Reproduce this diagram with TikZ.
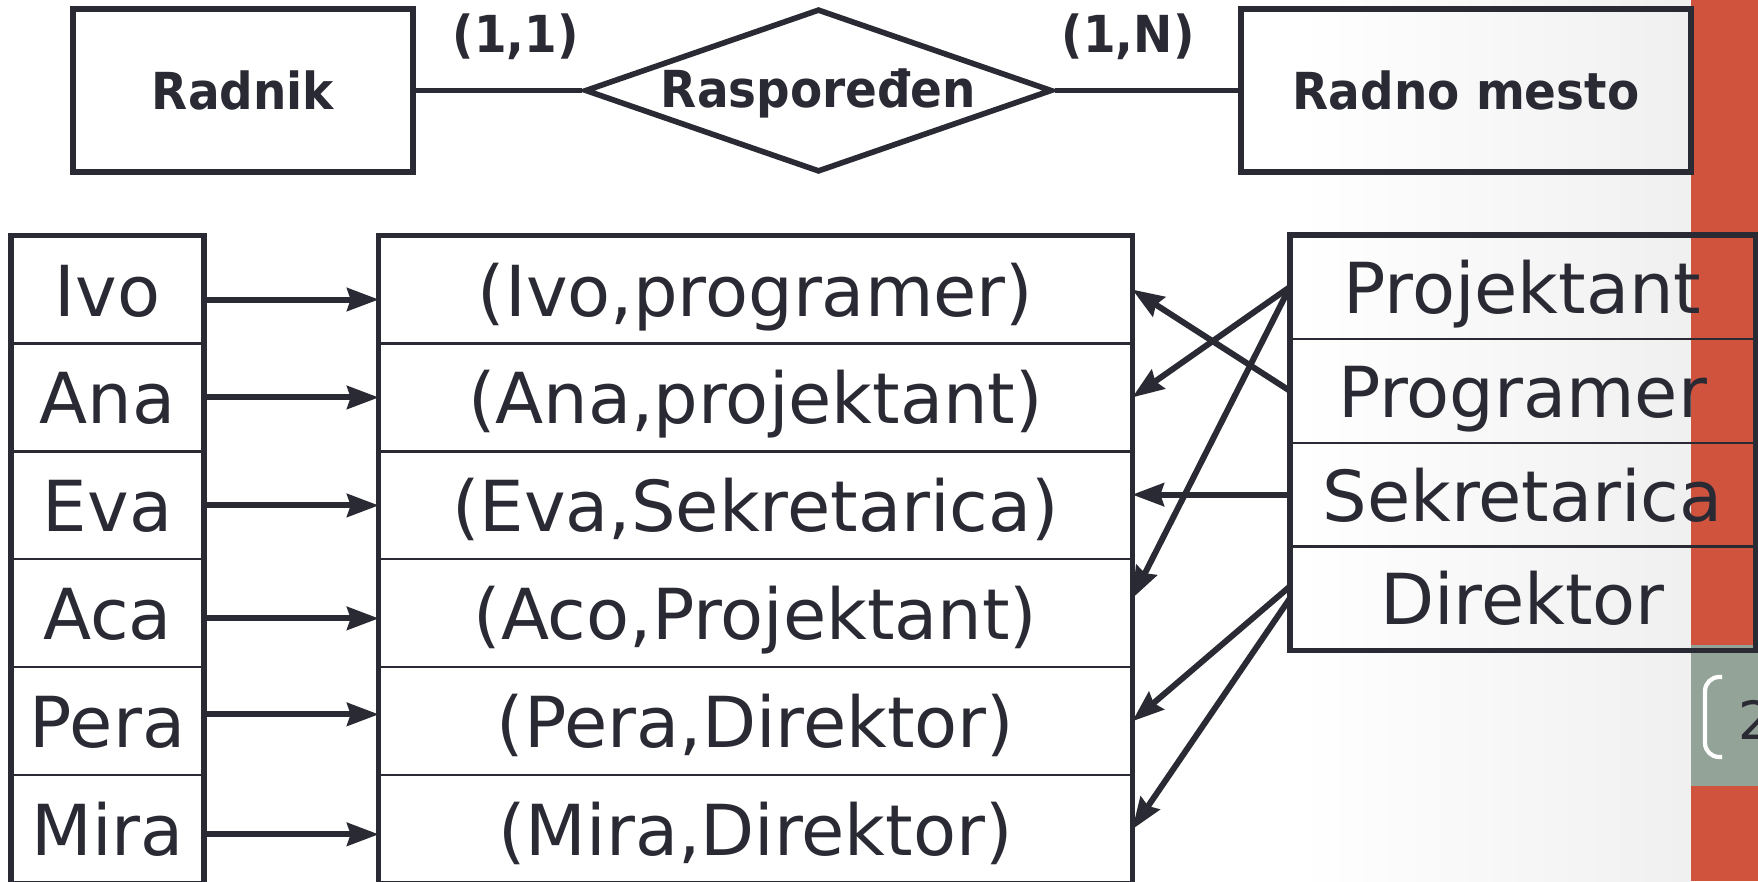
\documentclass[tikz,border=0pt]{standalone}
\usepackage{fontspec}
\setmainfont{DejaVu Sans}
\newfontfamily\erfont{DejaVu Sans}[FakeStretch=0.92]
\usetikzlibrary{shapes.geometric, arrows.meta, positioning}

\definecolor{ink}{RGB}{42,42,52}
\definecolor{slideorange}{RGB}{208,83,62}
\definecolor{slidegray}{RGB}{148,163,152}

\begin{document}
\begin{tikzpicture}[x=0.01cm, y=-0.01cm, line width=1.4pt, draw=ink, text=ink,
    % 样式定义
    entity/.style={draw, line width=1.6pt, minimum height=1.63cm,
        font=\erfont\bfseries\fontsize{14.5}{17}\selectfont},
    relation/.style={diamond, draw, line width=1.6pt, inner sep=0pt,
        minimum width=4.67cm, minimum height=1.63cm},
    card/.style={font=\erfont\bfseries\fontsize{14.5}{17}\selectfont},
    cell/.style={draw, line width=0.6pt, outer sep=0pt, inner sep=0pt,
        minimum height=1.079cm, text height=0.53cm, text depth=0cm,
        font=\fontsize{20}{24}\selectfont},
    lcell/.style={cell, minimum width=1.93cm},
    mcell/.style={cell, minimum width=7.53cm},
    rcell/.style={cell, minimum width=4.65cm, minimum height=1.0375cm},
    frame/.style={draw, line width=1.5pt},
    link/.style={-{Stealth[length=9pt, width=6.5pt, inset=1pt]}, line width=1.7pt}
]
    \useasboundingbox (0,0) rectangle (1758,881);

    % ▼▼▼【背景】▼▼▼
    \fill[white] (0,0) rectangle (1691,881);
    \shade[left color=white, right color=black!6] (1300,0) rectangle (1691,881);
    \fill[slideorange] (1691,0) rectangle (1758,881);
    \fill[slidegray] (1691,645) rectangle (1758,786);
    \draw[white, line width=1.2pt, rounded corners=4pt]
        (1722,677) -- (1705,677) -- (1705,757) -- (1722,757);
    \node[anchor=west, inner sep=0pt, font=\fontsize{15}{18}\selectfont] (pagenum) at (1736,720) {2};

    % ▼▼▼【ER 模型】▼▼▼
    \node[entity, minimum width=3.40cm] (radnik) at (243,90.5) {Radnik};
    \node[relation] (rasp) at (818.5,90.5) {};
    \node[card] (rasplabel) at ([yshift=-0.03cm]rasp) {Raspoređen};
    \node[entity, minimum width=4.50cm] (mesto) at (1466,90.5) {Radno mesto};

    \draw[line width=1.6pt] (radnik.east) -- (rasp.west) node[card, pos=0.6, above=0.16cm] {(1,1)};
    \draw[line width=1.6pt] (rasp.east) -- (mesto.west) node[card, pos=0.4, above=0.16cm] {(1,N)};

    % ▼▼▼【表格】▼▼▼

    % --- 左列 (Radnik) ---
    \node[lcell] (ivo) at (107.5,289.5) {Ivo};
    \node[lcell, below=0pt of ivo] (ana) {Ana};
    \node[lcell, below=0pt of ana] (eva) {Eva};
    \node[lcell, below=0pt of eva] (aca) {Aca};
    \node[lcell, below=0pt of aca] (pera) {Pera};
    \node[lcell, below=0pt of pera] (mira) {Mira};
    \draw[frame] (ivo.north west) rectangle (mira.south east);

    % --- 中列 (Raspoređen) ---
    \node[mcell] (ivoprog) at (755.5,289.5) {(Ivo,programer)};
    \node[mcell, below=0pt of ivoprog] (anaproj) {(Ana,projektant)};
    \node[mcell, below=0pt of anaproj] (evasek) {(Eva,Sekretarica)};
    \node[mcell, below=0pt of evasek] (acoproj) {(Aco,Projektant)};
    \node[mcell, below=0pt of acoproj] (peradir) {(Pera,Direktor)};
    \node[mcell, below=0pt of peradir] (miradir) {(Mira,Direktor)};
    \draw[frame] (ivoprog.north west) rectangle (miradir.south east);

    % --- 右列 (Radno mesto) ---
    \node[rcell] (proj) at (1522.5,287) {Projektant};
    \node[rcell, below=0pt of proj] (prog) {Programer};
    \node[rcell, below=0pt of prog] (sek) {Sekretarica};
    \node[rcell, below=0pt of sek] (dir) {Direktor};
    \draw[frame] (proj.north west) rectangle (dir.south east);

    % ▼▼▼【连线区】▼▼▼

    % 左 -> 中
    \draw[link] ([yshift=-0.1cm]ivo.east) -- ([yshift=-0.1cm]ivoprog.west);
    \draw[link] (ana.east) -- (anaproj.west);
    \draw[link] (eva.east) -- (evasek.west);
    \draw[link] ([yshift=-0.05cm]aca.east) -- ([yshift=-0.05cm]acoproj.west);
    \draw[link] ([yshift=0.07cm]pera.east) -- ([yshift=0.07cm]peradir.west);
    \draw[link] ([yshift=-0.05cm]mira.east) -- ([yshift=-0.05cm]miradir.west);

    % 右 -> 中
    \draw[link] (prog.west) -- (ivoprog.east);
    \draw[link] (proj.west) -- (anaproj.east);
    \draw[link] (proj.west) -- ([yshift=0.15cm]acoproj.east);
    \draw[link] (sek.west) -- (sek.west -| evasek.east);
    \draw[link] ([yshift=0.12cm]dir.west) -- (peradir.east);
    \draw[link] (dir.west) -- (miradir.east);

\end{tikzpicture}
\end{document}
